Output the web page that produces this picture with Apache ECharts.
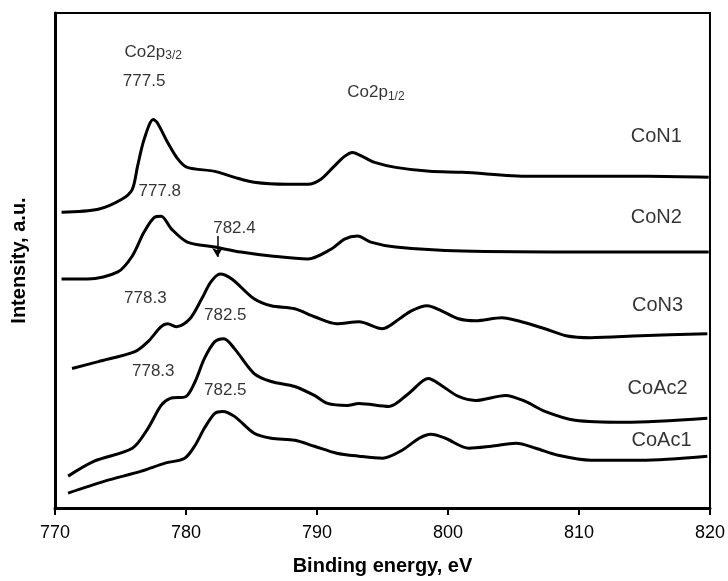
<!DOCTYPE html>
<html>
<head>
<meta charset="utf-8">
<script src="https://cdn.jsdelivr.net/npm/echarts@6/dist/echarts.min.js"></script>
<style>html,body{margin:0;padding:0;background:#fff}#c{width:728px;height:581px}</style>
</head>
<body>
<div id="c"></div>
<script>
// Binding energy (eV) vs intensity (a.u., offset stacked)
const seriesNames = ['CoN1', 'CoN2', 'CoN3', 'CoAc2', 'CoAc1'];
const xTicks = [770, 780, 790, 800, 810, 820];

const coN1 = [[770.5,297],[773.3,300],[775.1,310],[775.9,320],[776.3,343],[776.8,370],[777.5,390],[777.8,387],[778.6,367],[779.4,350],[780.1,342],[782.2,338],[783.7,332],[785.2,327],[787.7,325],[789.3,325],[790.3,330],[791.3,343],[792.1,353],[792.7,357],[793.6,352],[794.4,347],[796.0,342],[798.6,338],[801.1,337],[806.2,333],[811.2,333],[815.3,333],[819.9,332]];

const coN2 = [[770.5,230],[772.5,230],[774.8,237],[775.9,253],[776.8,277],[777.6,292],[778.1,293],[778.9,280],[780.1,267],[782.2,262],[784.2,257],[786.5,253],[789.3,250],[791.1,260],[792.1,270],[793.1,273],[794.1,267],[796.0,262],[801.1,258],[811.2,257],[819.9,257]];

const coN3 = [[771.3,140],[773.3,147],[776.1,157],[777.1,167],[778.1,182],[778.6,185],[779.3,182],[780.3,190],[781.2,210],[781.9,227],[782.6,235],[783.5,230],[785.2,210],[786.5,203],[788.3,200],[789.8,192],[791.5,185],[793.2,187],[795.0,180],[796.3,190],[797.2,198],[798.4,203],[799.5,198],[800.8,190],[802.1,188],[804.1,191],[805.6,187],[807.4,180],[809.0,173],[810.9,171],[814.7,173],[819.8,175]];

const coAc2 = [[771.0,32],[773.0,47],[775.9,60],[777.1,80],[778.1,103],[778.8,110],[780.0,112],[780.7,127],[781.4,150],[782.2,167],[782.9,170],[783.7,160],[785.2,135],[786.5,127],[788.3,122],[789.8,113],[790.8,105],[792.3,103],[793.2,105],[795.5,102],[797.0,115],[798.5,130],[799.5,123],[800.8,112],[802.1,108],[804.4,113],[805.9,107],[807.4,97],[809.7,88],[813.5,86],[819.8,90]];

const coAc1 = [[771.0,15],[773.8,27],[776.6,37],[778.4,45],[779.9,50],[780.7,63],[781.4,80],[782.2,95],[782.8,97],[783.7,92],[785.2,75],[786.5,70],[788.3,68],[789.8,62],[791.5,55],[793.2,52],[795.0,50],[796.5,58],[797.8,70],[798.7,74],[799.8,70],[801.6,60],[803.3,62],[805.2,65],[806.7,60],[808.4,53],[810.9,48],[814.7,48],[819.8,52]];

// Text annotations: [x (eV), y (a.u.), text]
const annotations = [
  [777.5, 458, '{n|Co2p}{s|3/2}'],
  [776.8, 428, '{n|777.5}'],
  [794.5, 417, '{n|Co2p}{s|1/2}'],
  [778.0, 318, '{n|777.8}'],
  [783.7, 281, '{n|782.4}'],
  [776.9, 211, '{n|778.3}'],
  [783.0, 193, '{n|782.5}'],
  [777.5, 137, '{n|778.3}'],
  [783.0, 118, '{n|782.5}']
];
const sampleLabels = [
  [815.9, 373, 'CoN1'],
  [815.9, 292, 'CoN2'],
  [816.0, 203, 'CoN3'],
  [816.0, 120, 'CoAc2'],
  [816.3, 68, 'CoAc1']
];
const arrowFrom = [782.4, 273];
const arrowTo = [782.4, 252];

const FONT = 'Liberation Sans, Arial, Helvetica, sans-serif';
const curves = [coN1, coN2, coN3, coAc2, coAc1];

const chart = echarts.init(document.getElementById('c'), null, {renderer: 'canvas'});
const series = curves.map((d, i) => ({
  name: seriesNames[i],
  type: 'line',
  data: d,
  smooth: 0.3,
  showSymbol: false,
  symbol: 'none',
  lineStyle: {color: '#000', width: 3},
  animation: false
}));

series.push({
  type: 'scatter',
  symbolSize: 0,
  silent: true,
  animation: false,
  data: annotations.map(a => ({value: [a[0], a[1]], label: {formatter: a[2]}})),
  label: {
    show: true,
    position: 'inside',
    color: '#000',
    fontFamily: FONT,
    rich: {
      n: {fontSize: 17, fontFamily: FONT, color: '#000', lineHeight: 20, verticalAlign: 'middle'},
      s: {fontSize: 12, fontFamily: FONT, color: '#000', lineHeight: 20, verticalAlign: 'bottom', padding: [8, 0, 0, 0]}
    }
  },
  markLine: {
    silent: true,
    animation: false,
    symbol: ['none', 'arrow'],
    symbolSize: [8, 9],
    label: {show: false},
    lineStyle: {color: '#000', width: 1.5, type: 'solid'},
    data: [[{coord: arrowFrom}, {coord: arrowTo}]]
  }
});

series.push({
  type: 'scatter',
  symbolSize: 0,
  silent: true,
  animation: false,
  data: sampleLabels.map(a => ({value: [a[0], a[1]], label: {formatter: a[2]}})),
  label: {show: true, position: 'inside', color: '#000', fontFamily: FONT, fontSize: 20}
});

chart.setOption({
  animation: false,
  backgroundColor: '#fff',
  grid: {left: 55, right: 16, top: 13, bottom: 71, show: true, borderColor: '#000', borderWidth: 2, containLabel: false},
  xAxis: {
    type: 'value',
    min: xTicks[0],
    max: xTicks[xTicks.length - 1],
    interval: 10,
    name: 'Binding energy, eV',
    nameLocation: 'middle',
    nameGap: 48,
    nameTextStyle: {fontSize: 20, fontWeight: 'bold', color: '#000', fontFamily: FONT},
    axisLine: {show: true, lineStyle: {color: '#000', width: 3}},
    axisTick: {show: true, inside: false, length: 7, lineStyle: {color: '#000', width: 2}},
    axisLabel: {fontSize: 18, color: '#000', margin: 16, fontFamily: FONT},
    splitLine: {show: false}
  },
  yAxis: {
    type: 'value',
    min: 0,
    max: 497,
    name: 'Intensity, a.u.',
    nameLocation: 'middle',
    nameGap: 26,
    nameRotate: 90,
    nameTextStyle: {fontSize: 20, fontWeight: 'bold', color: '#000', fontFamily: FONT},
    axisLine: {show: true, onZero: false, lineStyle: {color: '#000', width: 3}},
    axisTick: {show: false},
    axisLabel: {show: false},
    splitLine: {show: false}
  },
  series: series
});
</script>
</body>
</html>
